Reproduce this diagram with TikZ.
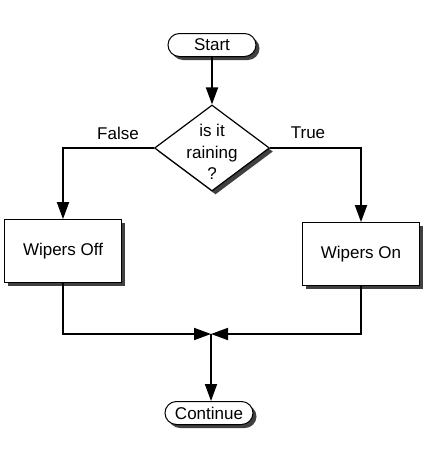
\documentclass[tikz,border=0pt]{standalone}
\usepackage{fontspec}
\setmainfont{Liberation Sans}
\usetikzlibrary{arrows.meta,shapes.geometric,shapes.misc,shadows}
\tikzset{
  shade box/.style={drop shadow={shadow xshift=3.5pt,shadow yshift=-3.5pt,fill=black!75,opacity=1}},
  term/.style={draw,line width=1pt,fill=white,rounded rectangle,minimum width=88pt,minimum height=23pt,inner sep=0pt,shade box},
  decide/.style={draw,line width=1.2pt,fill=white,diamond,minimum width=115pt,minimum height=86pt,inner sep=0pt,shade box},
  action/.style={draw,line width=0.8pt,fill=white,rectangle,minimum width=117pt,minimum height=63pt,shade box},
  flow/.style={line width=1.8pt,-{Triangle[length=17pt,width=12pt]}},
  lbl/.style={inner sep=0pt}
}
\begin{document}
\begin{tikzpicture}[x=1pt,y=-1pt,font=\fontsize{17}{21.5}\selectfont]
    \useasboundingbox (0,0) rectangle (437,453);
    \node[term] (start) at (212,45) {Start};
    \node[decide] (rain) at (212,148) {};
    \node[lbl,align=center] (raintext) at (212,152) {is it\\raining\\?};
    \node[action] (off) at (63,251) {Wipers Off};
    \node[action] (on) at (361,254) {Wipers On};
    \coordinate (join) at (211,334);
    \node[term] (cont) at (209,413) {Continue};
    \node[lbl] (false) at (118,133) {False};
    \node[lbl] (true) at (308,133) {True};
    \draw[flow] (start) -- (rain);
    \draw[flow] (rain.west) -| (off.north);
    \draw[flow] (rain.east) -| (on.north);
    \draw[flow] (off.south) |- (join);
    \draw[flow] (on.south) |- (join);
    \draw[flow] (join) -- (join |- cont.north);
\end{tikzpicture}
\end{document}
